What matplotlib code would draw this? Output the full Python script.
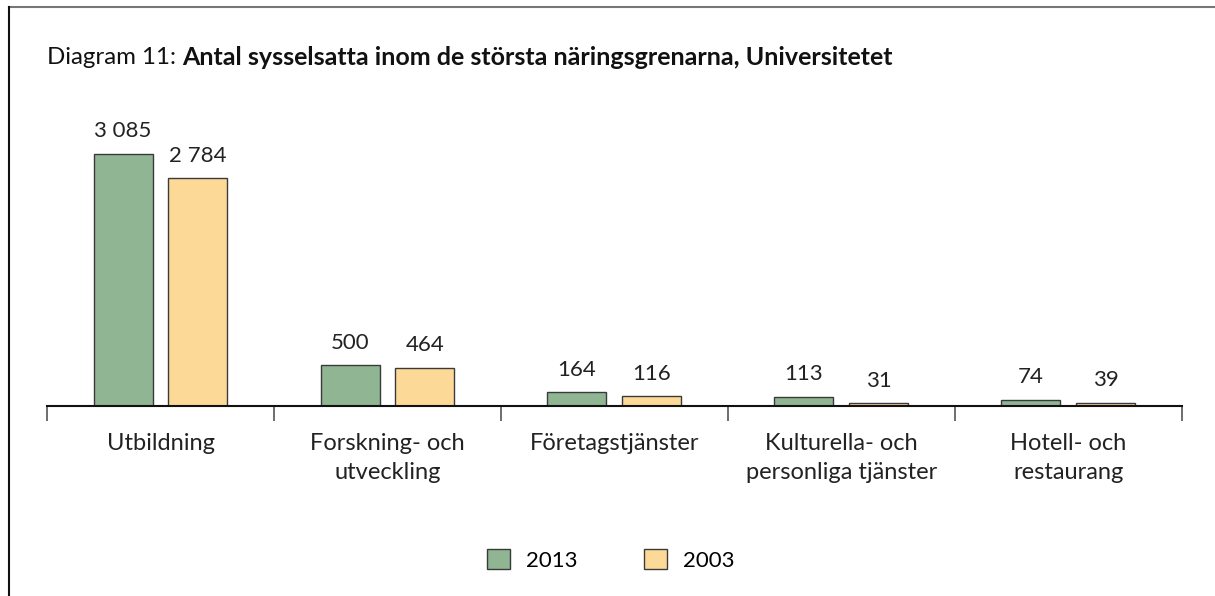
import matplotlib
matplotlib.use('Agg')
import matplotlib.pyplot as plt
from matplotlib.lines import Line2D
import numpy as np

plt.rcParams['font.family'] = ['Lato', 'DejaVu Sans']

# data
categories = ['Utbildning', 'Forskning- och\nutveckling', 'Företagstjänster',
              'Kulturella- och\npersonliga tjänster', 'Hotell- och\nrestaurang']
values_2013 = [3085, 500, 164, 113, 74]
values_2003 = [2784, 464, 116, 31, 39]
series_names = ['2013', '2003']


def fmt(v):
    # tusentalsavgränsare med mellanslag
    return '{:,}'.format(v).replace(',', ' ')


fig = plt.figure(figsize=(12.15, 5.96), dpi=100)
ax = fig.add_axes([0.0387, 0.319, 0.934, 0.48])

x = np.arange(len(categories))
w = 0.26
off = 0.165
b1 = ax.bar(x - off, values_2013, w, color='#8fb592', edgecolor='#3a3a3a', linewidth=1, label=series_names[0])
b2 = ax.bar(x + off, values_2003, w, color='#fdd998', edgecolor='#3a3a3a', linewidth=1, label=series_names[1])

for bars, vals in ((b1, values_2013), (b2, values_2003)):
    for rect, v in zip(bars, vals):
        ax.annotate(fmt(v), (rect.get_x() + rect.get_width() / 2, rect.get_height()),
                    xytext=(0, 9), textcoords='offset points',
                    ha='center', va='bottom', fontsize=16, color='#222222')

ax.set_xlim(-0.5, len(categories) - 0.5)
ax.set_ylim(0, 3500)

# spines
for s in ['top', 'right', 'left']:
    ax.spines[s].set_visible(False)
ax.spines['bottom'].set_color('#111111')
ax.spines['bottom'].set_linewidth(1.5)
ax.set_yticks([])

# avgränsningsstreck mellan kategorier, etiketter i mitten
ax.set_xticks(np.arange(-0.5, len(categories), 1.0))
ax.set_xticklabels([])
ax.tick_params(axis='x', which='major', direction='out', length=11, width=1.2, color='#555555')
ax.set_xticks(x, minor=True)
ax.set_xticklabels(categories, minor=True, fontsize=17, color='#222222', linespacing=1.45)
ax.tick_params(axis='x', which='minor', length=0, pad=19.5)

# titel
t1 = fig.text(0.0387, 0.904, 'Diagram 11: ', fontsize=17.3, color='#111111', va='center', ha='left')
fig.canvas.draw()
bb = t1.get_window_extent()
x1 = bb.x1 / fig.bbox.width
fig.text(x1, 0.904, 'Antal sysselsatta inom de största näringsgrenarna, Universitetet',
         fontsize=18, fontweight='bold', color='#111111', va='center', ha='left')

# legend
fig.legend(handles=[b1, b2], labels=series_names, loc='center', bbox_to_anchor=(0.503, 0.06),
           ncol=2, frameon=False, fontsize=16, handlelength=1.0, handleheight=1.0,
           columnspacing=3.0, handletextpad=0.75)

# ram
fig.add_artist(Line2D([0.0074, 1.0], [0.988, 0.988], color='#777777', linewidth=1.5))
fig.add_artist(Line2D([0.0074, 0.0074], [0.0, 0.988], color='#111111', linewidth=1.5))

fig.savefig('out.png', dpi=100)
